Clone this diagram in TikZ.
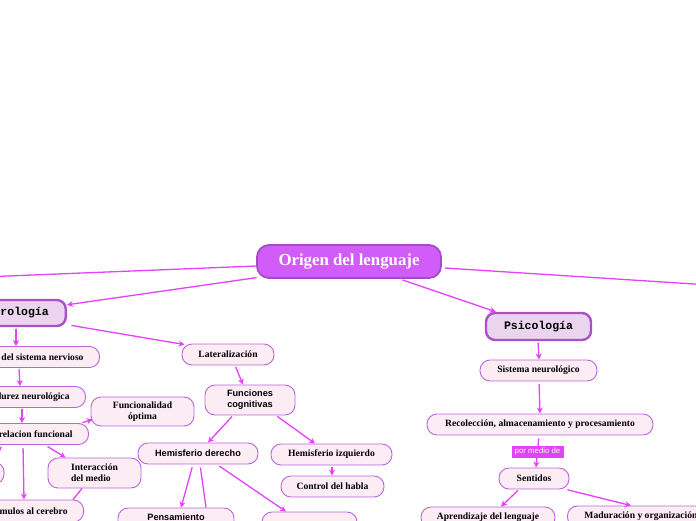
\documentclass[tikz,border=0pt]{standalone}
\usepackage{fontspec}
\setmainfont{Liberation Serif}
\newfontfamily\sansf{Liberation Sans}
\newfontfamily\monof{Liberation Mono}
\usetikzlibrary{arrows.meta,calc}
\definecolor{conn}{RGB}{226,66,249}
\definecolor{nodef}{RGB}{252,236,244}
\definecolor{nodeb}{RGB}{186,100,220}
\definecolor{topf}{RGB}{234,212,238}
\definecolor{topb}{RGB}{170,80,200}
\definecolor{rootf}{RGB}{210,92,250}
\definecolor{rootb}{RGB}{165,75,195}
\tikzset{
  sub/.style={draw=nodeb, fill=nodef, rounded corners=10pt, line width=0.9pt,
    font=\fontsize{9.6}{11}\selectfont\bfseries, align=center, inner sep=0pt, minimum height=21pt},
  subs/.style={sub, font=\fontsize{9.2}{11}\sansf\bfseries},
  topic/.style={draw=topb, fill=topf, line width=2.4pt, rounded corners=9pt,
    font=\fontsize{11.5}{13}\monof\bfseries, inner sep=0pt, minimum height=26pt},
  root/.style={draw=rootb, fill=rootf, line width=1.8pt, rounded corners=12pt,
    font=\fontsize{16.8}{19}\selectfont\bfseries, text=white, inner sep=0pt},
  lbl/.style={fill=conn, text=white, font=\fontsize{7.8}{9}\sansf, inner sep=0pt,
    minimum width=52pt, minimum height=12pt},
  arr/.style={draw=conn, line width=1.3pt, -{Stealth[length=6pt,width=6pt]}, shorten <=1.5pt},
  ln/.style={draw=conn, line width=1.3pt},
  cl/.style={inner xsep=16pt, anchor=east, align=right}
}
\begin{document}
\begin{tikzpicture}[x=1pt,y=-1pt]
\useasboundingbox (0,0) rectangle (696,520);
\clip (0,0) rectangle (696,520);

% root and topics
\node[root, minimum width=184pt, minimum height=33pt] (o) at (349,261.5) {Origen del lenguaje};
\node[topic, cl, inner xsep=17pt] (neu) at (67,313) {Neurología};
\node[topic, minimum width=105pt, minimum height=27pt] (psy) at (538.5,326.5) {Psicología};
\coordinate (offL) at (-5,276.5);
\coordinate (offR) at (710,285);

% Neurologia branch
\node[sub, cl] (sn1) at (100,357) {Madurez del sistema nervioso};
\node[sub, cl] (mad) at (86,397) {Madurez neurológica};
\node[sub, cl] (rel) at (89,434) {Interrelacion funcional};
\node[sub, minimum width=103pt, minimum height=29pt] (fun) at (142.5,411.5) {Funcionalidad\\óptima};
\node[sub, minimum width=93pt, minimum height=30pt, align=left] (int) at (94.5,473) {Interacción\\del medio};
\node[sub, cl, minimum height=22pt] (est) at (84,511) {Estímulos al cerebro};
\node[sub, anchor=east, minimum width=60pt, minimum height=22pt] (offn) at (4.5,473) {};

\node[sub, minimum width=92pt] (lat) at (228,354.5) {Lateralización};
\node[subs, minimum width=90pt, minimum height=30pt] (fc) at (250,400) {Funciones\\cognitivas};
\node[subs, minimum width=120pt] (hd) at (198,453.5) {Hemisferio derecho};
\node[sub, minimum width=121pt] (hi) at (331.5,454.5) {Hemisferio izquierdo};
\node[sub, minimum width=103pt] (ch) at (332.5,486.5) {Control del habla};
\node[subs, minimum width=116pt, minimum height=30pt] (pen) at (176,523) {Pensamiento\\\phantom{x}};
\node[sub, minimum width=95pt] (b5) at (309.5,522.5) {};

% Psicologia branch
\node[sub, minimum width=117pt] (snl) at (538.5,370.5) {Sistema neurológico};
\node[sub, minimum width=226pt] (rec) at (540,424.5) {Recolección, almacenamiento y procesamiento};
\node[sub, minimum width=70pt] (sen) at (534,478.5) {Sentidos};
\node[sub, minimum width=134pt] (apr) at (488,517.5) {Aprendizaje del lenguaje};
\node[sub, anchor=west, inner xsep=17pt, align=left] (mor) at (567,516.5) {Maduración y organización};

% connectors from root
\draw[ln] ($(o.west)+(0,4.5)$) -- (offL);
\draw[arr] ($(o.south west)+(2,-1.5)$) -- ($(neu.north east)+(0,6)$);
\draw[arr] ($(o.south)+(52,0.5)$) -- ($(psy.north west)+(11,0)$);
\draw[ln] ($(o.east)+(3,6.5)$) -- (offR);

% Neurologia connectors
\draw[arr] (neu.south -| 16,0) -- (sn1.north -| 16,0);
\draw[arr] (sn1.south -| 19,0) -- (mad.north -| 20,0);
\draw[arr] (mad.south -| 22,0) -- (rel.north -| 22,0);
\draw[arr] (rel.north -| 81,0) -- ($(fun.west)+(2,8)$);
\draw[arr, shorten <=3pt] (rel.south -| 45,0) -- ($(int.north west)+(18,0)$);
\draw[arr, shorten <=3pt] (rel.south -| 23,0) -- (est.north -| 24,0);
\draw[ln] (int.south -| 82,0) -- (est.north -| 73,0);
\draw[ln, shorten <=2pt] (rel.south -| 2,0) -- (offn.north -| -5,0);

\draw[arr] ($(neu.south east)+(3,-2)$) -- ($(lat.north west)+(3,1)$);
\draw[arr] (lat.south -| 235,0) -- (fc.north -| 243,0);
\draw[arr] (fc.south -| 233,0) -- (hd.north -| 208,0);
\draw[arr] (fc.south -| 276,0) -- (hi.north -| 315,0);
\draw[arr] (hi.south -| 332,0) -- (ch.north -| 332,0);
\draw[arr, shorten <=3pt] (hd.south -| 193,0) -- (pen.north -| 181,0);
\draw[ln, shorten <=3pt] (hd.south -| 200,0) -- (pen.north -| 206,0);
\draw[arr, shorten <=3pt] (hd.south -| 217,0) -- (b5.north -| 286,0);

% Psicologia connectors
\draw[arr] (psy.south -| 538,0) -- (snl.north -| 539,0);
\draw[arr, shorten <=3pt] (snl.south -| 539,0) -- (rec.north -| 540,0);
\draw[arr, shorten <=3pt] (rec.south -| 539,0) -- node[lbl] (lbl1) {por medio de} (sen.north -| 536,0);
\draw[arr] (sen.south -| 519,0) -- (apr.north -| 501,0);
\draw[arr] (sen.south -| 566,0) -- (mor.north -| 631,0);
\end{tikzpicture}
\end{document}
